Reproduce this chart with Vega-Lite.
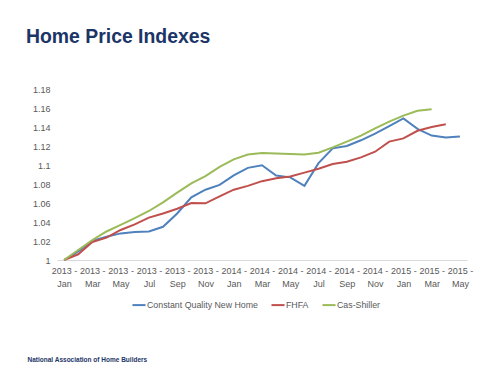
{
  "$schema": "https://vega.github.io/schema/vega-lite/v6.json",
  "width": 410,
  "height": 171,
  "autosize": {"type": "none"},
  "padding": {"left": 57, "top": 89, "right": 33, "bottom": 115},
  "background": "white",
  "title": {
    "text": "Home Price Indexes",
    "anchor": "start",
    "frame": "group",
    "dx": -31,
    "offset": 38,
    "fontSize": 19.4,
    "font": "Liberation Sans",
    "fontWeight": "bold",
    "color": "#1B3566"
  },
  "data": {
    "values": [
      {"month": "2013 - Jan", "Constant Quality New Home": 1.000, "FHFA": 1.000, "Cas-Shiller": 1.000},
      {"month": "2013 - Feb", "Constant Quality New Home": 1.009, "FHFA": 1.006, "Cas-Shiller": 1.0105},
      {"month": "2013 - Mar", "Constant Quality New Home": 1.020, "FHFA": 1.019, "Cas-Shiller": 1.021},
      {"month": "2013 - Apr", "Constant Quality New Home": 1.0245, "FHFA": 1.0235, "Cas-Shiller": 1.030},
      {"month": "2013 - May", "Constant Quality New Home": 1.028, "FHFA": 1.0316, "Cas-Shiller": 1.037},
      {"month": "2013 - Jun", "Constant Quality New Home": 1.0295, "FHFA": 1.0375, "Cas-Shiller": 1.044},
      {"month": "2013 - Jul", "Constant Quality New Home": 1.030, "FHFA": 1.0446, "Cas-Shiller": 1.0516},
      {"month": "2013 - Aug", "Constant Quality New Home": 1.035, "FHFA": 1.049, "Cas-Shiller": 1.0607},
      {"month": "2013 - Sep", "Constant Quality New Home": 1.049, "FHFA": 1.054, "Cas-Shiller": 1.0709},
      {"month": "2013 - Oct", "Constant Quality New Home": 1.066, "FHFA": 1.060, "Cas-Shiller": 1.0807},
      {"month": "2013 - Nov", "Constant Quality New Home": 1.074, "FHFA": 1.0597, "Cas-Shiller": 1.0884},
      {"month": "2013 - Dec", "Constant Quality New Home": 1.079, "FHFA": 1.067, "Cas-Shiller": 1.098},
      {"month": "2014 - Jan", "Constant Quality New Home": 1.089, "FHFA": 1.074, "Cas-Shiller": 1.106},
      {"month": "2014 - Feb", "Constant Quality New Home": 1.097, "FHFA": 1.078, "Cas-Shiller": 1.111},
      {"month": "2014 - Mar", "Constant Quality New Home": 1.0997, "FHFA": 1.083, "Cas-Shiller": 1.1126},
      {"month": "2014 - Apr", "Constant Quality New Home": 1.089, "FHFA": 1.086, "Cas-Shiller": 1.112},
      {"month": "2014 - May", "Constant Quality New Home": 1.087, "FHFA": 1.088, "Cas-Shiller": 1.1117},
      {"month": "2014 - Jun", "Constant Quality New Home": 1.078, "FHFA": 1.092, "Cas-Shiller": 1.111},
      {"month": "2014 - Jul", "Constant Quality New Home": 1.102, "FHFA": 1.096, "Cas-Shiller": 1.113},
      {"month": "2014 - Aug", "Constant Quality New Home": 1.1175, "FHFA": 1.101, "Cas-Shiller": 1.1186},
      {"month": "2014 - Sep", "Constant Quality New Home": 1.120, "FHFA": 1.1035, "Cas-Shiller": 1.1246},
      {"month": "2014 - Oct", "Constant Quality New Home": 1.126, "FHFA": 1.108, "Cas-Shiller": 1.131},
      {"month": "2014 - Nov", "Constant Quality New Home": 1.133, "FHFA": 1.114, "Cas-Shiller": 1.1386},
      {"month": "2014 - Dec", "Constant Quality New Home": 1.141, "FHFA": 1.1246, "Cas-Shiller": 1.1456},
      {"month": "2015 - Jan", "Constant Quality New Home": 1.149, "FHFA": 1.128, "Cas-Shiller": 1.152},
      {"month": "2015 - Feb", "Constant Quality New Home": 1.138, "FHFA": 1.136, "Cas-Shiller": 1.157},
      {"month": "2015 - Mar", "Constant Quality New Home": 1.131, "FHFA": 1.140, "Cas-Shiller": 1.1586},
      {"month": "2015 - Apr", "Constant Quality New Home": 1.129, "FHFA": 1.143},
      {"month": "2015 - May", "Constant Quality New Home": 1.130}
    ]
  },
  "transform": [
    {"fold": ["Constant Quality New Home", "FHFA", "Cas-Shiller"], "as": ["series", "value"]}
  ],
  "mark": {"type": "line", "strokeWidth": 2},
  "encoding": {
    "x": {
      "field": "month",
      "type": "ordinal",
      "sort": null,
      "scale": {"type": "point", "padding": 0.5},
      "axis": {
        "values": ["2013 - Jan", "2013 - Mar", "2013 - May", "2013 - Jul", "2013 - Sep", "2013 - Nov", "2014 - Jan", "2014 - Mar", "2014 - May", "2014 - Jul", "2014 - Sep", "2014 - Nov", "2015 - Jan", "2015 - Mar", "2015 - May"],
        "labelExpr": "[slice(datum.value, 0, 6), slice(datum.value, 7)]",
        "labelAngle": 0,
        "ticks": false,
        "grid": false,
        "domainColor": "#D9D9D9",
        "labelColor": "#595959",
        "labelFont": "Liberation Sans",
        "labelFontSize": 9,
        "labelPadding": 6,
        "labelLineHeight": 13,
        "title": "National Association of Home Builders",
        "titleAnchor": "start",
        "titleAlign": "left",
        "titleX": -30,
        "titleY": 99,
        "titleBaseline": "middle",
        "titleFont": "Liberation Sans",
        "titleFontSize": 6.5,
        "titleFontWeight": "bold",
        "titleColor": "#1B3566"
      }
    },
    "y": {
      "field": "value",
      "type": "quantitative",
      "scale": {"domain": [1, 1.18], "zero": false},
      "axis": {
        "values": [1, 1.02, 1.04, 1.06, 1.08, 1.1, 1.12, 1.14, 1.16, 1.18],
        "format": ".2~f",
        "domain": false,
        "ticks": false,
        "grid": false,
        "labelColor": "#595959",
        "labelFont": "Liberation Sans",
        "labelFontSize": 9,
        "labelPadding": 7,
        "title": null
      }
    },
    "color": {
      "field": "series",
      "type": "nominal",
      "scale": {
        "domain": ["Constant Quality New Home", "FHFA", "Cas-Shiller"],
        "range": ["#4F81BD", "#C0504D", "#9BBB59"]
      },
      "legend": {
        "orient": "none",
        "legendX": 74,
        "legendY": 208,
        "direction": "horizontal",
        "title": null,
        "symbolType": "stroke",
        "symbolStrokeWidth": 2,
        "symbolSize": 170,
        "labelFont": "Liberation Sans",
        "labelFontSize": 8.8,
        "labelColor": "#595959",
        "columnPadding": 9,
        "labelOffset": 0
      }
    }
  },
  "config": {"view": {"stroke": null}}
}
